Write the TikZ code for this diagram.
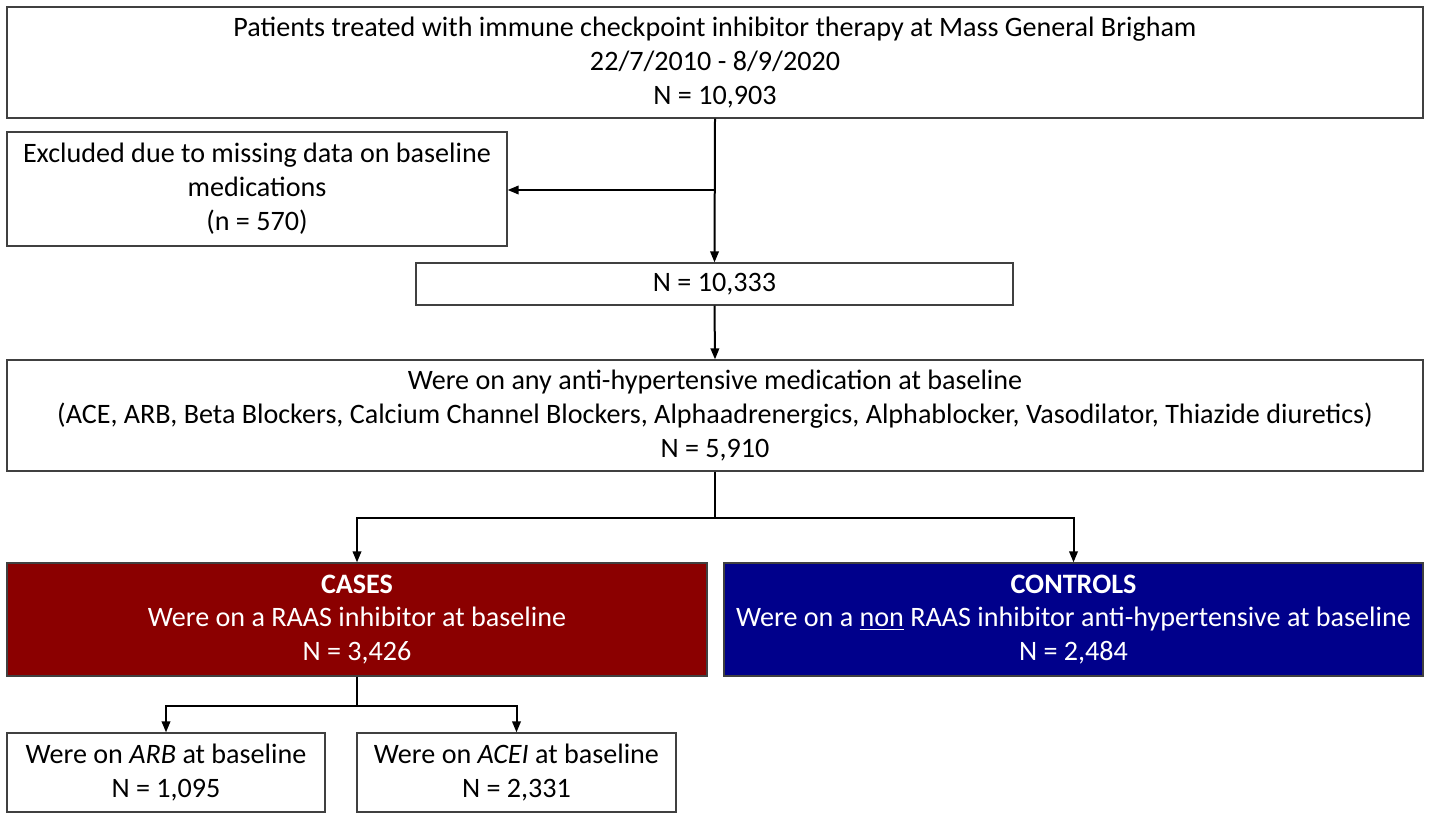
\documentclass[tikz,border=0pt]{standalone}
\usepackage{fontspec}
\setmainfont{Carlito}
\usetikzlibrary{arrows.meta}
\definecolor{casered}{RGB}{139,0,0}
\definecolor{ctrlblue}{RGB}{0,0,139}
\tikzset{
  flowbox/.style={draw=black!75, line width=0.025cm, align=center, inner sep=0pt, font=\fontsize{16}{19.3}\selectfont},
  flowarrow/.style={line width=0.04cm, -{Triangle[length=0.22cm,width=0.17cm]}},
}
\begin{document}
\begin{tikzpicture}
  \useasboundingbox (0,0) rectangle (28.58,-16.40);
  {
  % Drawing box top
  \node [flowbox, minimum width=28.32cm, minimum height=2.22cm] (top) at (14.30,-1.25)
    {Patients treated with immune checkpoint inhibitor therapy at Mass General Brigham\\22/7/2010 - 8/9/2020\\N = 10,903};%

  % Drawing box excluded
  \node [flowbox, minimum width=10.00cm, minimum height=2.28cm] (excl) at (5.14,-3.78)
    {Excluded due to missing data on baseline\\medications\\(n = 570)};%

  % Drawing box N after exclusion
  \node [flowbox, minimum width=11.94cm, minimum height=0.84cm] (kept) at (14.29,-5.68)
    {N = 10,333};%

  % Drawing box anti-hypertensive
  \node [flowbox, minimum width=28.32cm, minimum height=2.22cm] (anti) at (14.30,-8.31)
    {Were on any anti-hypertensive medication at baseline\\(ACE, ARB, Beta Blockers, Calcium Channel Blockers, Alphaadrenergics, Alphablocker, Vasodilator, Thiazide diuretics)\\N = 5,910};%

  % Drawing box cases
  \node [flowbox, fill=casered, text=white, minimum width=14.00cm, minimum height=2.26cm] (cases) at (7.14,-12.39)
    {\textbf{CASES}\\Were on a RAAS inhibitor at baseline\\N = 3,426};%

  % Drawing box controls
  \node [flowbox, fill=ctrlblue, text=white, minimum width=13.98cm, minimum height=2.26cm] (ctrl) at (21.47,-12.39)
    {\textbf{CONTROLS}\\Were on a \underline{non} RAAS inhibitor anti-hypertensive at baseline\\N = 2,484};%

  % Drawing box ARB
  \node [flowbox, minimum width=6.36cm, minimum height=1.58cm] (arb) at (3.32,-15.45)
    {Were on \textit{ARB} at baseline\\N = 1,095};%

  % Drawing box ACEI
  \node [flowbox, minimum width=6.38cm, minimum height=1.58cm] (acei) at (10.33,-15.45)
    {Were on \textit{ACEI} at baseline\\N = 2,331};%

  % Drawing connectors
  \coordinate (split) at (14.30,-3.80);%
  \draw [flowarrow] (top.south) -- (kept.north);%
  \draw [flowarrow] (split) -- (excl.east |- split);%
  \draw [flowarrow] (kept.south) -- (anti.north);%
  \draw [flowarrow] (anti.south) -- ++(0,-0.92) -| (cases.north);%
  \draw [flowarrow] (anti.south) -- ++(0,-0.92) -| (ctrl.north);%
  \draw [flowarrow] (cases.south) -- ++(0,-0.58) -| (arb.north);%
  \draw [flowarrow] (cases.south) -- ++(0,-0.58) -| (acei.north);%
  }
\end{tikzpicture}
\end{document}
